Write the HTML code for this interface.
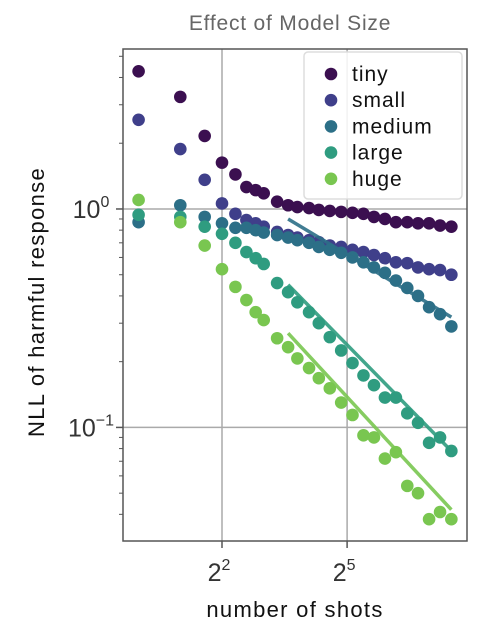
<!DOCTYPE html>
<html><head><meta charset="utf-8">
<style>
html,body{margin:0;padding:0;background:#fff;}
svg{display:block;font-family:"Liberation Sans","DejaVu Sans",sans-serif;}
</style></head>
<body>
<svg id="chart" width="480" height="629" viewBox="0 0 480 629" xmlns="http://www.w3.org/2000/svg">
<text x="290" y="30" text-anchor="middle" font-size="21" letter-spacing="0.8" fill="#666">Effect of Model Size</text>
<text transform="translate(44,302) rotate(-90)" text-anchor="middle" font-size="22" letter-spacing="1.3" fill="#111">NLL of harmful response</text>
<text x="295" y="617" text-anchor="middle" font-size="22" letter-spacing="1.3" fill="#111">number of shots</text>
<g id="grid"></g>
<g id="marks"></g>
<g id="axes"></g>
<g id="legend"></g>
</svg>
<script>
const shots=[1,2,3,4,5,6,7,8,10,12,14,17,20,24,29,35,42,50,60,72,87,104,125,150,181];
const seriesNames=["tiny","small","medium","large","huge"];
const tinyVals=[4.27,3.26,2.16,1.63,1.44,1.26,1.22,1.18,1.08,1.04,1.02,1.01,0.99,0.98,0.97,0.96,0.95,0.92,0.90,0.87,0.87,0.86,0.86,0.84,0.83];
const smallVals=[2.56,1.88,1.36,1.06,0.95,0.89,0.86,0.83,0.785,0.76,0.74,0.72,0.705,0.68,0.67,0.65,0.635,0.615,0.595,0.57,0.565,0.54,0.53,0.525,0.50];
const mediumVals=[0.87,1.04,0.92,0.86,0.82,0.82,0.80,0.78,0.76,0.74,0.72,0.70,0.67,0.65,0.63,0.60,0.57,0.54,0.51,0.47,0.435,0.40,0.355,0.33,0.29];
const largeVals=[0.94,0.92,0.83,0.77,0.70,0.635,0.595,0.56,0.458,0.416,0.374,0.337,0.30,0.259,0.225,0.197,0.173,0.156,0.137,0.137,0.116,0.105,0.085,0.09,0.078];
const hugeVals=[1.10,0.87,0.68,0.53,0.44,0.383,0.337,0.31,0.256,0.233,0.207,0.187,0.168,0.151,0.13,0.114,0.092,0.090,0.072,0.077,0.054,0.05,0.038,0.041,0.038];
const fitShots=[12,181];
const mediumFit=[0.90,0.32];
const largeFit=[0.45,0.078];
const hugeFit=[0.27,0.042];
const xTickExps=[2,5];
const yTickExps=[0,-1];

const colors=["#3b0f50","#3f3f8a","#2c6f87","#2f9c80","#79c650"];
const L=123,R=467,T=49,B=541;
const xMin=-0.374,xMax=7.875;
const yMin=Math.log10(0.0302),yMax=Math.log10(5.4);
const X=v=>L+(Math.log2(v)-xMin)/(xMax-xMin)*(R-L);
const Y=v=>B-(Math.log10(v)-yMin)/(yMax-yMin)*(B-T);
const NS="http://www.w3.org/2000/svg";
function mk(tag,attrs,parent){const e=document.createElementNS(NS,tag);for(const k in attrs)e.setAttribute(k,attrs[k]);parent.appendChild(e);return e;}
const grid=document.getElementById('grid'),marks=document.getElementById('marks'),axes=document.getElementById('axes'),legend=document.getElementById('legend');

xTickExps.forEach(e=>{const x=X(Math.pow(2,e));
 const g=mk('line',{x1:x,x2:x,y1:T,y2:B,stroke:'#aaa','stroke-width':1.5},grid);
 
 
 const t=mk('line',{x1:x,x2:x,y1:B,y2:B+7,stroke:'#555','stroke-width':1.5},axes);
 
 
 const tx=mk('text',{x:x-3,y:581,'text-anchor':'middle','font-size':25,fill:'#333'},axes);
 tx.textContent='2';
 const sup=mk('tspan',{dy:-11,'font-size':16},tx);sup.textContent=String(e);
 
 
});
yTickExps.forEach(e=>{const y=Y(Math.pow(10,e));
 const g=mk('line',{x1:L,x2:R,y1:y,y2:y,stroke:'#aaa','stroke-width':1.5},grid);
 
 
 const t=mk('line',{x1:L-7,x2:L,y1:y,y2:y,stroke:'#555','stroke-width':1.5},axes);
 
 
 const tx=mk('text',{x:L-32,y:y+9,'text-anchor':'middle','font-size':25,fill:'#333'},axes);
 tx.textContent='10';
 const sup=mk('tspan',{dy:-11,'font-size':16},tx);sup.textContent=e===0?'0':'\u22121';
 
 
});
for(let d=-2;d<=0;d++){for(let m=2;m<=9;m++){const v=m*Math.pow(10,d);
 if(Math.log10(v)<yMin||Math.log10(v)>yMax)continue;const y=Y(v);
 const t=mk('line',{x1:L-4,x2:L,y1:y,y2:y,stroke:'#555','stroke-width':1},axes);
 
 
}}
const frame=mk('rect',{x:L,y:T,width:R-L,height:B-T,fill:'none',stroke:'#555','stroke-width':1.5},axes);



const allVals=[tinyVals,smallVals,mediumVals,largeVals,hugeVals];
allVals.forEach((vals,si)=>{vals.forEach((v,i)=>{
 const c=mk('circle',{cx:X(shots[i]),cy:Y(v),r:6.3,fill:colors[si]},marks);
 
 
});});
[[mediumFit,2],[largeFit,3],[hugeFit,4]].forEach(([f,si])=>{
 const l=mk('line',{x1:X(fitShots[0]),y1:Y(f[0]),x2:X(fitShots[1]),y2:Y(f[1]),stroke:colors[si],'stroke-width':3.5,'stroke-opacity':0.9},marks);
 
 
});

const box=mk('rect',{x:304,y:52,width:158,height:147,rx:4,fill:'#fff','fill-opacity':0.85,stroke:'#ddd','stroke-width':1.5},legend);


seriesNames.forEach((n,i)=>{const y=74+i*26.2;
 const c=mk('circle',{cx:331,cy:y,r:6.3,fill:colors[i]},legend);
 
 
 const t=mk('text',{x:352,y:y+7,'font-size':21,'letter-spacing':1,fill:'#111'},legend);t.textContent=n;
 
 
});
</script>
</body></html>
